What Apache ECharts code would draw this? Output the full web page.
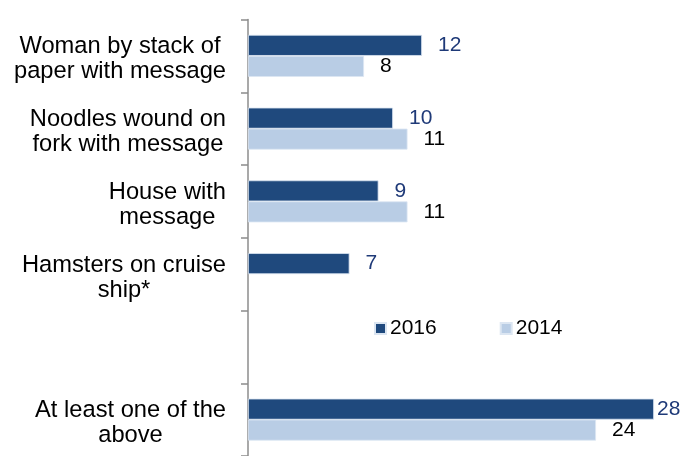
<!DOCTYPE html>
<html>
<head>
<meta charset="utf-8">
<script src="https://cdn.jsdelivr.net/npm/echarts@6/dist/echarts.min.js"></script>
<style>
  html, body { margin: 0; padding: 0; background: #fff; }
  #chart { width: 684px; height: 456px; }
</style>
</head>
<body>
<div id="chart"></div>
<script>
// Categories, top to bottom; the blank slot leaves room for the legend
const categories = [
  'Woman by stack of\npaper with message',
  'Noodles wound on\nfork with message',
  'House with\nmessage',
  'Hamsters on cruise\nship*',
  '',
  'At least one of the\nabove'
];
const values2016 = [12, 10, 9, 7, null, 28];
const values2014 = [8, 11, 11, null, null, 24];
const seriesNames = ['2016', '2014'];

const FONT = '"Liberation Sans", Arial, sans-serif';
const DARK = '#1F497D';
const LIGHT = '#B9CDE5';

// Value labels sit just outside the bar end; the longest bar's label is pulled in
function withLabels(values) {
  const maxVal = Math.max(...values.filter(v => v != null));
  return values.map(v => {
    if (v == null) return '-';
    if (v === maxVal && v >= 28) return { value: v, label: { distance: 3 } };
    return v;
  });
}

const chart = echarts.init(document.getElementById('chart'), null, { renderer: 'canvas' });

chart.setOption({
  animation: false,
  backgroundColor: '#fff',
  grid: { left: 248, right: 1, top: 19.5, height: 439.5, containLabel: false },
  legend: {
    data: seriesNames,
    left: 374,
    top: 318,
    padding: 0,
    itemWidth: 11,
    itemHeight: 11,
    itemGap: 63,
    icon: 'rect',
    textStyle: { fontFamily: FONT, fontSize: 21, color: '#000', padding: [0, 0, 0, -1] }
  },
  xAxis: {
    type: 'value',
    min: 0,
    max: 30,
    show: false
  },
  yAxis: {
    type: 'category',
    inverse: true,
    data: categories,
    axisLine: { show: true, lineStyle: { color: '#8c8c8c', width: 1.5 } },
    axisTick: { show: true, length: 7, lineStyle: { color: '#8c8c8c', width: 1.5 } },
    splitLine: { show: false },
    axisLabel: {
      margin: 22,
      formatter: function (val) {
        if (!val) return '';
        // a thin spacer line on top nudges the two-line block slightly down
        return '{s|}\n' + val.split('\n').map(s => '{c|' + s + '}').join('\n');
      },
      rich: {
        s: { fontSize: 1, lineHeight: 7 },
        c: { align: 'center', fontFamily: FONT, fontSize: 23.7, color: '#000', lineHeight: 25 }
      }
    }
  },
  series: [
    {
      name: seriesNames[0],
      type: 'bar',
      data: withLabels(values2016),
      barWidth: 21,
      barGap: '0%',
      itemStyle: { color: DARK, borderColor: '#dbe5f1', borderWidth: 0.8 },
      label: {
        show: true,
        position: 'right',
        distance: 16,
        fontFamily: FONT,
        fontSize: 21,
        color: '#1F3A78'
      }
    },
    {
      name: seriesNames[1],
      type: 'bar',
      data: withLabels(values2014),
      barWidth: 21,
      barGap: '0%',
      itemStyle: { color: LIGHT, borderColor: '#dce6f2', borderWidth: 0.8 },
      label: {
        show: true,
        position: 'right',
        distance: 16,
        fontFamily: FONT,
        fontSize: 21,
        color: '#000'
      }
    }
  ]
});
</script>
</body>
</html>
